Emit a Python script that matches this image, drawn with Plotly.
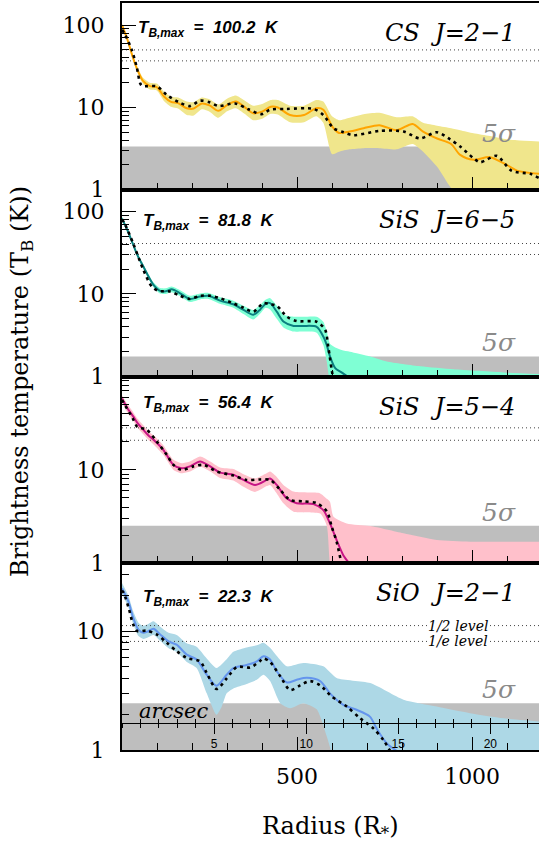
import math
import plotly.graph_objects as go
from plotly.subplots import make_subplots

# ---------------- data ----------------
X_MAX = 1191            # right edge of the radius axis (R*)
R_PER_ARCSEC = 52.6     # R* per arcsec for the secondary axis
ARCSEC_LEVEL = 1.70     # T_B level at which the arcsec axis is drawn (panel 4)

titles = ["CS\u00a0\u00a0J=2\u22121", "SiS\u00a0\u00a0J=6\u22125", "SiS\u00a0\u00a0J=5\u22124", "SiO\u00a0\u00a0J=2\u22121"]
tb_max = [100.2, 81.8, 56.4, 22.3]
sigma5 = [3.35, 1.75, 2.52, 2.48]
y_top_log = [2.27, 2.263, 2.0, 1.572]

# CS J=2-1
cs_r = [0, 15, 30, 45, 60, 80, 100, 120, 140, 160, 185, 205, 228, 250, 275, 300, 325, 350, 375, 400,
        425, 445, 480, 520, 555, 575, 600, 620, 650, 690, 735, 785, 830, 860, 900, 940, 966, 1004,
        1051, 1099, 1128, 1191]
cs_obs = [100, 68, 42, 28, 21, 18.2, 17.6, 13.6, 11.7, 11.3, 9.8, 9.7, 11.2, 10.6, 9.1, 10.7, 11.8,
          10.1, 8.5, 8.9, 10.2, 10.0, 8.1, 8.1, 9.8, 9.4, 5.9, 4.9, 5.1, 5.6, 6.1, 5.3, 6.3, 5.1,
          4.2, 3.6, 2.65, 2.31, 2.49, 2.0, 1.71, 1.56]
cs_up = [104, 72, 45, 30.5, 23, 20, 19.5, 15.5, 13.5, 13.2, 11.8, 11.6, 13.2, 12.6, 10.9, 12.8, 14,
         12.2, 10.5, 11, 12.3, 12.3, 10.5, 10.5, 12.3, 11.8, 7.8, 7.0, 7.5, 8.3, 8.6, 7.6, 7.8, 6.5,
         6.0, 5.6, 5.3, 4.86, 4.5, 4.1, 4.0, 3.85]
cs_lo = [96, 64, 39, 26, 19.3, 16.5, 16, 12, 10.2, 9.7, 8.1, 8.0, 9.5, 8.9, 7.5, 9.0, 9.8, 8.4, 7.0,
         7.3, 8.4, 8.2, 6.6, 6.6, 7.8, 6.5, 2.7, 2.9, 3.1, 3.2, 3.2, 3.1, 3.6, 2.9, 1.9, 1.05,
         0.85, 0.7, 0.65, 0.55, 0.5, 0.45]
cs_mod_r = [0, 10, 28, 42, 52, 58, 100, 128, 166, 194, 223, 250, 276, 323, 361, 399, 423, 470, 547,
            575, 604, 633, 661, 737, 804, 851, 899, 937, 966, 1004, 1023, 1070, 1113, 1166, 1191]
cs_mod = [88, 75, 50, 31, 19.6, 18.3, 18, 14.2, 11.4, 10.4, 12.1, 11.6, 10.4, 11.2, 9.5, 8.3, 9.4,
          9.6, 9.6, 8.1, 5.6, 5.0, 4.6, 5.2, 5.1, 4.2, 5.0, 4.1, 3.35, 2.42, 2.16, 2.58, 1.70,
          1.56, 1.39]

# SiS J=6-5
sis65_r = [0, 15, 32, 45, 61, 75, 90, 109, 125, 142, 166, 194, 223, 247, 280, 318, 347, 375, 395,
           410, 423, 442, 462, 490, 518, 556, 575, 585, 594, 609, 627, 651]
sis65_obs = [82, 60, 39.5, 29, 21.5, 16.5, 12.9, 10.9, 10.8, 11.4, 10.2, 8.7, 9.3, 9.5, 8.3, 7.5,
             6.4, 5.6, 6.5, 7.6, 7.75, 6.1, 4.6, 4.1, 4.1, 4.0, 3.05, 2.4, 1.75, 1.26, 1.12, 0.95]
sis65_band_r = [0, 15, 32, 45, 61, 75, 90, 109, 125, 142, 166, 194, 223, 247, 280, 318, 347, 375,
                395, 410, 423, 442, 462, 490, 518, 556, 575, 585, 594, 609, 627, 651, 709, 756,
                852, 947, 1090, 1191]
sis65_up = [86, 63, 41.5, 30.5, 22.7, 17.5, 13.8, 11.8, 11.7, 12.3, 11.1, 9.5, 10.1, 10.3, 9.1,
            8.3, 7.2, 6.4, 7.4, 8.5, 8.9, 7.2, 5.6, 5.3, 5.3, 5.3, 4.6, 3.5, 2.5, 2.25, 2.1, 2.0,
            1.75, 1.52, 1.33, 1.22, 1.12, 1.07]
sis65_lo = [78, 57, 37.5, 27.5, 20.3, 15.5, 12.1, 10.1, 10.0, 10.5, 9.4, 8.0, 8.6, 8.7, 7.6, 6.8,
            5.7, 4.9, 5.8, 6.8, 6.5, 5.0, 3.9, 3.5, 3.5, 3.4, 2.4, 1.5, 0.9, 0.8, 0.75, 0.7, 0.7,
            0.7, 0.7, 0.7, 0.7, 0.7]
sis65_mod_r = [0, 7, 32, 61, 85, 104, 137, 166, 194, 223, 252, 280, 318, 347, 375, 404, 423, 442,
               471, 499, 556, 580, 589, 599, 603]
sis65_mod = [80, 72, 41, 19.6, 12.3, 10.9, 10.7, 9.5, 8.7, 9.5, 9.5, 8.9, 7.7, 6.8, 6.1, 7.75, 7.5,
             7.2, 5.3, 4.7, 4.6, 3.7, 2.3, 1.2, 0.95]

# SiS J=5-4
sis54_r = [0, 15, 32, 45, 61, 75, 90, 118, 147, 170, 194, 223, 252, 280, 318, 347, 380, 413, 423,
           442, 470, 499, 547, 575, 594, 613, 632, 651]
sis54_obs = [58, 46, 37.4, 31.5, 26.9, 23.5, 21, 16.4, 11.3, 10.4, 10.9, 12.3, 10.9, 9.35, 8.9, 7.8,
             6.9, 7.8, 8.1, 6.9, 4.97, 4.39, 4.3, 3.7, 2.67, 1.77, 1.22, 0.98]
sis54_band_r = [0, 15, 32, 45, 61, 75, 90, 118, 147, 170, 194, 223, 252, 280, 318, 347, 380, 413,
                423, 442, 461, 490, 566, 585, 594, 604, 642, 709, 804, 899, 994, 1191]
sis54_up = [63, 51, 41.5, 35, 30, 26, 23.5, 18.4, 12.8, 11.8, 12.3, 13.9, 12.3, 10.6, 10.2, 9.0,
            8.1, 9.2, 9.6, 8.4, 6.9, 5.85, 5.6, 4.9, 4.56, 3.15, 2.67, 2.5, 2.09, 1.77, 1.7, 1.7]
sis54_lo = [53, 41.5, 33.5, 28, 24, 21, 18.7, 14.5, 10.0, 9.2, 9.6, 10.9, 9.6, 8.2, 7.7, 6.6, 5.8,
            6.7, 6.9, 5.6, 4.4, 3.57, 3.4, 2.5, 1.0, 0.8, 0.7, 0.7, 0.7, 0.7, 0.7, 0.7]
sis54_mod_r = [0, 5, 30, 44, 70, 99, 128, 147, 170, 204, 233, 271, 318, 356, 394, 423, 452, 480,
               518, 556, 585, 599, 613, 627]
sis54_mod = [56, 52, 36, 28.8, 27, 20.2, 14.5, 11.3, 10.0, 10.9, 11.3, 9.6, 8.7, 7.8, 7.9, 7.8, 6.1,
             4.76, 4.6, 4.4, 3.6, 2.46, 1.7, 0.98]

# SiO J=2-1
sio_r = [0, 18, 32, 47, 61, 75, 90, 109, 133, 156, 185, 213, 242, 270, 299, 318, 356, 385, 404, 423,
         442, 471, 499, 528, 566, 594, 632, 670, 708, 727, 756, 785]
sio_obs = [23, 17.9, 13, 10.3, 9.7, 10.0, 10.5, 9.4, 8.2, 7.7, 6.35, 5.77, 4.3, 3.47, 4.3, 4.9, 5.2,
           5.57, 6.15, 5.77, 4.6, 3.7, 3.9, 4.05, 3.8, 3.0, 2.4, 2.18, 1.91, 1.52, 1.14, 0.98]
sio_up_r = [0, 18, 32, 47, 61, 75, 90, 109, 133, 156, 185, 213, 242, 270, 299, 318, 356, 385, 404,
            423, 450, 471, 518, 575, 613, 709, 804, 899, 994, 1090, 1191]
sio_up = [25.5, 20, 14.7, 11.8, 11.1, 11.5, 12.1, 10.9, 9.7, 9.3, 7.9, 7.4, 5.9, 4.9, 5.8, 6.7, 7.3,
          7.6, 8.0, 7.24, 5.8, 5.06, 5.4, 5.06, 4.04, 3.66, 2.65, 2.32, 2.04, 1.85, 1.74]
sio_lo_r = [0, 18, 32, 47, 61, 75, 90, 109, 133, 156, 185, 213, 242, 270, 285, 299, 318, 356, 385,
            404, 423, 452, 480, 518, 556, 585, 599, 620, 1191]
sio_lo = [20.5, 16, 11.5, 9.1, 8.6, 8.9, 9.3, 8.3, 7.2, 6.7, 5.5, 4.9, 3.0, 1.98, 2.32, 3.0, 3.3,
          3.6, 3.9, 4.3, 3.8, 2.48, 2.25, 2.48, 2.2, 1.3, 0.95, 0.7, 0.6]
sio_mod_r = [0, 5, 20, 32, 44, 70, 99, 128, 156, 185, 223, 242, 270, 299, 328, 366, 394, 404, 423,
             452, 480, 509, 537, 566, 599, 642, 680, 718, 747, 766]
sio_mod = [22, 21, 15.3, 11.4, 10.0, 10.1, 9.4, 8.0, 6.8, 5.96, 5.57, 4.45, 3.26, 4.0, 5.0, 4.95,
           5.6, 5.9, 5.5, 4.17, 3.2, 3.5, 3.8, 3.5, 2.82, 2.32, 1.85, 1.52, 1.21, 0.98]

x_tick_vals = [0, 500, 1000]
x_tick_text = ["", "500", "1000"]
arcsec_ticks = [5, 10, 15, 20]

# ---------------- style ----------------
SERIF = "DejaVu Serif"
SANS = "Liberation Sans"
GRAY = "#BEBEBE"

panels = [
    dict(obs_r=cs_r, obs=cs_obs, up_r=cs_r, up=cs_up, lo_r=cs_r, lo=cs_lo,
         mod_r=cs_mod_r, mod=cs_mod, line="#FFA500", band="#F0E68C"),
    dict(obs_r=sis65_r, obs=sis65_obs, up_r=sis65_band_r, up=sis65_up, lo_r=sis65_band_r, lo=sis65_lo,
         mod_r=sis65_mod_r, mod=sis65_mod, line="#0A7F7F", band="#7FFFD4"),
    dict(obs_r=sis54_r, obs=sis54_obs, up_r=sis54_band_r, up=sis54_up, lo_r=sis54_band_r, lo=sis54_lo,
         mod_r=sis54_mod_r, mod=sis54_mod, line="#C71585", band="#FFC0CB"),
    dict(obs_r=sio_r, obs=sio_obs, up_r=sio_up_r, up=sio_up, lo_r=sio_lo_r, lo=sio_lo,
         mod_r=sio_mod_r, mod=sio_mod, line="#6495ED", band="#ADD8E6"),
]

tmax_label_top = [0.93, 0.898, 0.923, 0.883]   # y-domain of label top
title_top = 0.925

fig = make_subplots(rows=4, cols=1, shared_xaxes=True, vertical_spacing=0)

for i, p in enumerate(panels):
    row = i + 1
    sig = sigma5[i]
    # 5 sigma region
    fig.add_trace(go.Scatter(x=[0, X_MAX, X_MAX, 0], y=[sig, sig, 0.01, 0.01], mode="lines",
                             fill="toself", fillcolor=GRAY, line=dict(width=0),
                             hoverinfo="skip", showlegend=False), row=row, col=1)
    # uncertainty band
    fig.add_trace(go.Scatter(x=p["lo_r"], y=p["lo"], mode="lines",
                             line=dict(width=0, shape="spline", smoothing=0.6),
                             hoverinfo="skip", showlegend=False), row=row, col=1)
    fig.add_trace(go.Scatter(x=p["up_r"], y=p["up"], mode="lines", fill="tonexty",
                             fillcolor=p["band"], line=dict(width=0, shape="spline", smoothing=0.6),
                             hoverinfo="skip", showlegend=False), row=row, col=1)
    # 1/2 and 1/e levels
    for lev in (tb_max[i] / 2.0, tb_max[i] / math.e):
        fig.add_trace(go.Scatter(x=[0, X_MAX], y=[lev, lev], mode="lines",
                                 line=dict(color="#444444", width=1, dash="1px,3px"),
                                 hoverinfo="skip", showlegend=False), row=row, col=1)
    # observed profile
    fig.add_trace(go.Scatter(x=p["obs_r"], y=p["obs"], mode="lines",
                             line=dict(color=p["line"], width=2, shape="spline", smoothing=0.8),
                             showlegend=False), row=row, col=1)
    # model
    fig.add_trace(go.Scatter(x=p["mod_r"], y=p["mod"], mode="lines",
                             line=dict(color="black", width=2.6, dash="3px,4px", shape="spline",
                                       smoothing=0.8),
                             showlegend=False), row=row, col=1)

# invisible traces to carry the arcsec axes
fig.add_trace(go.Scatter(x=[0], y=[1], xaxis="x5", yaxis="y4", mode="markers",
                         marker=dict(opacity=0), hoverinfo="skip", showlegend=False))
fig.add_trace(go.Scatter(x=[0], y=[1], xaxis="x6", yaxis="y4", mode="markers",
                         marker=dict(opacity=0), hoverinfo="skip", showlegend=False))

minor_y = [2, 3, 4, 5, 6, 7, 8, 9, 20, 30, 40, 50, 60, 70, 80, 90, 200]
for i in range(4):
    row = i + 1
    if i < 2:
        tv, tt = [1, 10, 100], ["1", "10", "100"]
    else:
        tv, tt = [1, 10], ["1", "10"]
    fig.update_yaxes(type="log", range=[0, y_top_log[i]], tickmode="array", tickvals=tv, ticktext=tt,
                     ticks="inside", ticklen=14, tickwidth=1.3, tickcolor="black",
                     minor=dict(tickmode="array", tickvals=minor_y, ticks="inside", ticklen=7,
                                tickwidth=1.1, tickcolor="black"),
                     showline=True, linewidth=2, linecolor="black", mirror=False,
                     showgrid=False, zeroline=False, ticklabelstandoff=11,
                     tickfont=dict(family=SERIF, size=22, color="black"), row=row, col=1)
    fig.update_xaxes(range=[0, X_MAX], tickmode="array", tickvals=x_tick_vals, ticktext=x_tick_text,
                     ticks="inside", ticklen=13, tickwidth=1.3, tickcolor="black",
                     minor=dict(tickmode="linear", tick0=0, dtick=100, ticks="inside", ticklen=7,
                                tickwidth=1.1, tickcolor="black"),
                     showline=True, linewidth=2, linecolor="black", mirror=True,
                     showgrid=False, zeroline=False, showticklabels=(row == 4),
                     ticklabelstandoff=6,
                     tickfont=dict(family=SERIF, size=22, color="black"), row=row, col=1)

arc_pos = 0.25 * math.log10(ARCSEC_LEVEL) / y_top_log[3]
common_arc = dict(overlaying="x4", anchor="free", position=arc_pos,
                  range=[0, X_MAX / R_PER_ARCSEC], showgrid=False, zeroline=False)
fig.update_layout(
    xaxis5=dict(**common_arc, tickmode="array", tickvals=arcsec_ticks, ticks="outside", ticklen=10,
                tickwidth=1.3, tickcolor="black", showline=True, linewidth=1.3, linecolor="black",
                minor=dict(tickmode="linear", tick0=0, dtick=1, ticks="outside", ticklen=4,
                           tickwidth=1, tickcolor="black"),
                tickfont=dict(family=SANS, size=12, color="black"), ticklabelstandoff=0),
    xaxis6=dict(**common_arc, tickmode="array", tickvals=arcsec_ticks, ticks="inside", ticklen=5,
                tickwidth=1.3, tickcolor="black", showline=False, showticklabels=False,
                minor=dict(tickmode="linear", tick0=0, dtick=1, ticks="inside", ticklen=4,
                           tickwidth=1, tickcolor="black")),
)

ann = []
for i in range(4):
    n = "" if i == 0 else str(i + 1)
    ann.append(dict(xref=f"x{n} domain", yref=f"y{n} domain", x=0.947, y=title_top,
                    xanchor="right", yanchor="top", showarrow=False,
                    text=f"<i>{titles[i]}</i>", font=dict(family=SERIF, size=24, color="black")))
    ann.append(dict(xref=f"x{n} domain", yref=f"y{n} domain", x=0.034 if i == 0 else 0.046,
                    y=tmax_label_top[i], xanchor="left", yanchor="top", showarrow=False,
                    text=f"<b><i>T<sub>B,max</sub>\u00a0\u00a0=\u00a0\u00a0{tb_max[i]}\u00a0\u00a0K</i></b>",
                    font=dict(family=SANS, size=17, color="black")))
    ann.append(dict(xref=f"x{n} domain", yref=f"y{n}", x=0.95, y=math.log10(sigma5[i]),
                    xanchor="right", yanchor="bottom", yshift=-3, showarrow=False,
                    text="<i>5\u03c3</i>", font=dict(family=SERIF, size=25, color="#8a8a8a")))

ann.append(dict(xref="x4", yref="y4", x=961, y=math.log10(tb_max[3] / 2.0), showarrow=False,
                text="<i>1/2 level</i>", bgcolor="white", borderpad=0,
                font=dict(family=SERIF, size=14, color="black")))
ann.append(dict(xref="x4", yref="y4", x=961, y=math.log10(tb_max[3] / math.e), showarrow=False,
                text="<i>1/e level</i>", bgcolor="white", borderpad=0,
                font=dict(family=SERIF, size=14, color="black")))
ann.append(dict(xref="x4 domain", yref="y4", x=0.035, y=math.log10(ARCSEC_LEVEL), xanchor="left",
                yanchor="bottom", yshift=-2, showarrow=False, text="<i>arcsec</i>",
                font=dict(family=SERIF, size=21, color="black")))
ann.append(dict(xref="paper", yref="paper", x=-0.24, y=0.494, textangle=-90, showarrow=False,
                xanchor="center", yanchor="middle",
                text="Brightness temperature (T<sub>B</sub> (K))",
                font=dict(family=SERIF, size=24, color="black")))
ann.append(dict(xref="paper", yref="paper", x=0.5, y=-0.104, showarrow=False,
                xanchor="center", yanchor="middle", text="Radius (R<sub>*</sub>)",
                font=dict(family=SERIF, size=24, color="black")))

fig.update_layout(width=539, height=845, margin=dict(l=122, r=0, t=3, b=95),
                  paper_bgcolor="white", plot_bgcolor="white", showlegend=False,
                  annotations=ann, font=dict(family=SERIF, color="black"))

fig.write_html("out.html")
